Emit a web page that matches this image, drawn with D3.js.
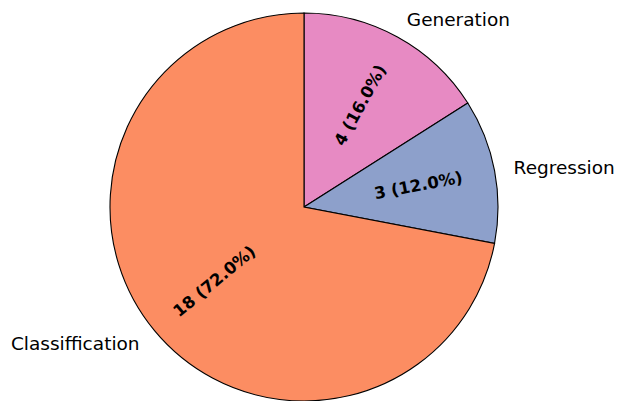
<!DOCTYPE html>
<html>
<head>
<meta charset="utf-8">
<script src="https://cdn.jsdelivr.net/npm/d3@7"></script>
<style>
  body { margin: 0; background: #fff; }
  text { font-family: "DejaVu Sans", sans-serif; }
</style>
</head>
<body>
<div id="chart"></div>
<script>
// slices listed clockwise from 12 o'clock
var categories = ["Generation", "Regression", "Classiffication"],
    counts = [4, 3, 18],
    colors = ["#e78ac3", "#8da0cb", "#fc8d62"];

var width = 617,
    height = 401,
    cx = 304,
    cy = 207,
    radius = 194;

var total = d3.sum(counts);

var data = categories.map(function(c, i) {
    return {name: c, value: counts[i], color: colors[i]};
});

var pie = d3.pie()
    .sort(null)
    .value(function(d) { return d.value; });

var arc = d3.arc()
    .innerRadius(0)
    .outerRadius(radius);

var svg = d3.select("#chart").append("svg")
    .attr("width", width)
    .attr("height", height)
    .append("g")
    .attr("transform", "translate(" + cx + "," + cy + ")");

var arcs = pie(data);

svg.selectAll("path")
    .data(arcs)
    .enter().append("path")
    .attr("d", arc)
    .attr("fill", function(d) { return d.data.color; })
    .attr("stroke", "#000")
    .attr("stroke-width", 1.1);

function mid(d) { return (d.startAngle + d.endAngle) / 2; }

// outer labels at 1.1 r
svg.selectAll(".lbl")
    .data(arcs)
    .enter().append("text")
    .attr("class", "lbl")
    .attr("x", function(d) { return Math.sin(mid(d)) * radius * 1.1; })
    .attr("y", function(d) { return -Math.cos(mid(d)) * radius * 1.1; })
    .attr("dy", "0.35em")
    .attr("text-anchor", function(d) { return Math.sin(mid(d)) > 0 ? "start" : "end"; })
    .style("font-size", "18.5px")
    .attr("fill", "#000")
    .text(function(d) { return d.data.name; });

// percentage labels at 0.6 r, rotated along the radius
svg.selectAll(".pct")
    .data(arcs)
    .enter().append("text")
    .attr("class", "pct")
    .attr("transform", function(d) {
        var a = mid(d),
            x = Math.sin(a) * radius * 0.6,
            y = -Math.cos(a) * radius * 0.6,
            deg = 90 - a * 180 / Math.PI;   // ccw math angle
        if (deg < -90) deg += 180;
        return "translate(" + x + "," + y + ") rotate(" + (-deg) + ")";
    })
    .attr("dy", "0.35em")
    .attr("text-anchor", "middle")
    .style("font-size", "16.5px")
    .style("font-weight", "bold")
    .attr("fill", "#000")
    .text(function(d) {
        return d.data.value + " (" + (d.data.value / total * 100).toFixed(1) + "%)";
    });
</script>
</body>
</html>
